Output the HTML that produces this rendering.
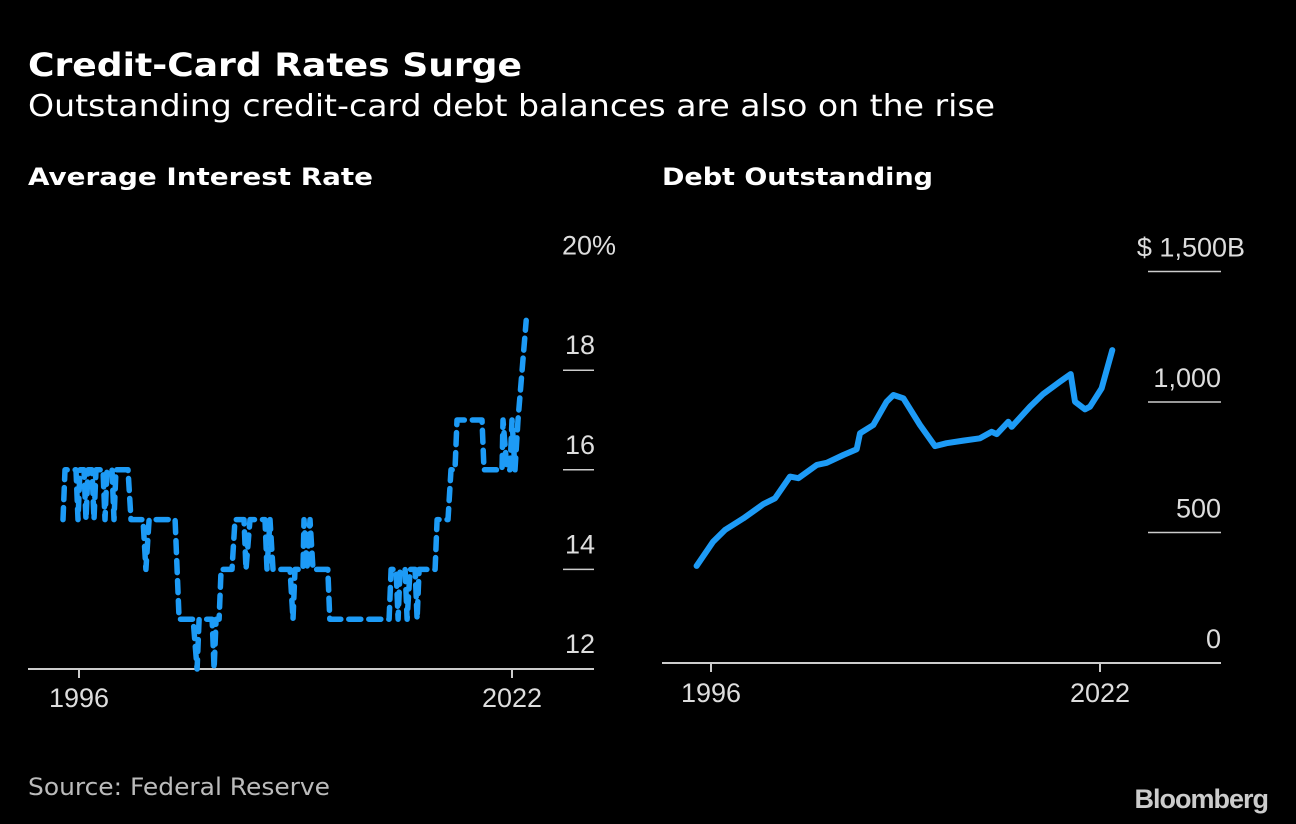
<!DOCTYPE html>
<html><head><meta charset="utf-8">
<style>
html,body{margin:0;padding:0;background:#000;}
svg{display:block;font-family:"DejaVu Sans","Liberation Sans",sans-serif;}
</style></head>
<body>
<svg id="chart" width="1296" height="824" viewBox="0 0 1296 824">
<rect width="1296" height="824" fill="#000"/>
<text x="28" y="76" fill="#fff" font-weight="bold" font-size="32" textLength="494" lengthAdjust="spacingAndGlyphs">Credit-Card Rates Surge</text>
<text x="28" y="116" fill="#fff" font-size="30" textLength="967" lengthAdjust="spacingAndGlyphs">Outstanding credit-card debt balances are also on the rise</text>
<text x="28" y="185" fill="#fff" font-weight="bold" font-size="24" textLength="345" lengthAdjust="spacingAndGlyphs">Average Interest Rate</text>
<text x="662" y="185" fill="#fff" font-weight="bold" font-size="24" textLength="271" lengthAdjust="spacingAndGlyphs">Debt Outstanding</text>
<g id="left"></g>
<g id="right"></g>
<text x="28" y="795" fill="#bbb" font-size="24" textLength="302" lengthAdjust="spacingAndGlyphs">Source: Federal Reserve</text>
<text x="1268" y="808" fill="#ccc" font-family="Liberation Sans, sans-serif" font-weight="bold" font-size="27" text-anchor="end" letter-spacing="-1">Bloomberg</text>
</svg>
<script>
const rateDates = [1995.04,1995.16,1995.82,1995.94,1996.06,1996.30,1996.42,1996.54,1996.78,1996.90,1997.02,1997.44,1997.56,1997.68,1997.98,1998.10,1998.22,1998.94,1999.12,1999.84,2000.02,2000.21,2001.77,2002.01,2002.85,2003.09,2003.21,2003.99,2004.11,2004.23,2004.41,2004.53,2005.19,2005.37,2005.91,2006.03,2006.27,2007.17,2007.29,2007.47,2007.65,2008.67,2008.85,2008.97,2009.45,2009.51,2009.69,2009.87,2010.05,2010.94,2011.06,2014.62,2014.74,2015.04,2015.16,2015.28,2015.58,2015.70,2015.88,2016.18,2016.30,2016.42,2017.38,2017.50,2018.16,2018.34,2018.58,2018.70,2020.20,2020.32,2021.40,2021.46,2021.70,2021.88,2022.00,2022.18,2022.36,2022.85];
const rateValues = [15,16,16,15,16,16,15,16,16,15,16,16,15,16,16,15,16,16,15,15,14,15,15,13,13,12,13,13,12,13,13,14,14,15,15,14,15,15,14,15,14,14,13,14,14,15,14,15,14,14,13,13,14,14,13,14,14,13,14,14,13,14,14,15,15,16,16,17,17,16,16,17,16,16,17,16,17,19];
const rateTicks = [12,14,16,18,20];
const rateTickLabels = ["12","14","16","18","20%"];
const debtDates = [1995.04,1996.15,1996.94,1998.16,1999.5,2000.28,2001.28,2001.84,2003.07,2003.73,2004.84,2005.74,2005.96,2006.85,2007.74,2008.19,2008.86,2009.97,2010.97,2011.75,2012.87,2013.98,2014.76,2015.1,2015.87,2016.1,2017.32,2018.21,2019.33,2020.04,2020.33,2021.0,2021.33,2022.11,2022.82];
const debtValues = [372,465,510,554,609,631,714,708,759,767,797,819,880,912,1001,1027,1014,912,831,842,852,861,886,877,924,905,982,1031,1078,1107,1001,972,982,1052,1199];
const debtTicks = [0,500,1000,1500];
const debtTickLabels = ["0","500","1,000","$ 1,500B"];
const yearTicks = [1996,2022];

const NS="http://www.w3.org/2000/svg";
function mk(parent,tag,attrs){const e=document.createElementNS(NS,tag);for(const k in attrs)e.setAttribute(k,attrs[k]);parent.appendChild(e);return e;}
const LF="Liberation Sans, sans-serif";

// left panel
const L=document.getElementById('left');
const lx=y=>79+(y-1996)*(433/26);
const ly=v=>669-(v-12)*49.8;
rateTicks.forEach((t,i)=>{
  if(t>12&&t<20){const g=mk(L,'line',{x1:563,x2:594,y1:ly(t),y2:ly(t),stroke:'#ccc','stroke-width':1.5});
  
  }
  const tx=mk(L,'text',{x:595,y:ly(t)-16,fill:'#ddd','font-size':27,'font-family':LF,'text-anchor':'end'});
  if(t===20){tx.setAttribute('text-anchor','start');tx.setAttribute('x',562);}
  tx.textContent=rateTickLabels[i];
  
  
});
const la=mk(L,'line',{x1:28,x2:594,y1:669,y2:669,stroke:'#ccc','stroke-width':2});


yearTicks.forEach(y=>{
  const t=mk(L,'line',{x1:lx(y),x2:lx(y),y1:669,y2:678,stroke:'#ccc','stroke-width':2});
  
  
  const tx=mk(L,'text',{x:lx(y),y:707,fill:'#ddd','font-size':27,'font-family':LF,'text-anchor':'middle'});
  tx.textContent=y;
  
  
});
let d='';rateDates.forEach((t,i)=>{d+=(i?'L':'M')+lx(t).toFixed(1)+','+ly(rateValues[i]).toFixed(1);});
const rl=mk(L,'path',{d:d,fill:'none',stroke:'#1d9bf6','stroke-width':5.5,'stroke-dasharray':'12 8','stroke-linecap':'round','stroke-linejoin':'round'});



// right panel
const R=document.getElementById('right');
const rx=y=>711+(y-1996)*(389/26);
const ry=v=>663-v*(130.5/500);
debtTicks.forEach((t,i)=>{
  if(t>0){const g=mk(R,'line',{x1:1148,x2:1221,y1:ry(t),y2:ry(t),stroke:'#ccc','stroke-width':1.5});
  
  }
  const tx=mk(R,'text',{x:1221,y:ry(t)-15,fill:'#ddd','font-size':27,'font-family':LF,'text-anchor':'end'});
  if(t===1500){tx.setAttribute('x',1245);}
  tx.textContent=debtTickLabels[i];
  
  
});
const ra=mk(R,'line',{x1:662,x2:1221,y1:663,y2:663,stroke:'#ccc','stroke-width':2});


yearTicks.forEach(y=>{
  const t=mk(R,'line',{x1:rx(y),x2:rx(y),y1:663,y2:672,stroke:'#ccc','stroke-width':2});
  
  
  const tx=mk(R,'text',{x:rx(y),y:702,fill:'#ddd','font-size':27,'font-family':LF,'text-anchor':'middle'});
  tx.textContent=y;
  
  
});
let d2='';debtDates.forEach((t,i)=>{d2+=(i?'L':'M')+rx(t).toFixed(1)+','+ry(debtValues[i]).toFixed(1);});
const dl=mk(R,'path',{d:d2,fill:'none',stroke:'#1d9bf6','stroke-width':6,'stroke-linecap':'round','stroke-linejoin':'round'});


</script>
</body></html>
